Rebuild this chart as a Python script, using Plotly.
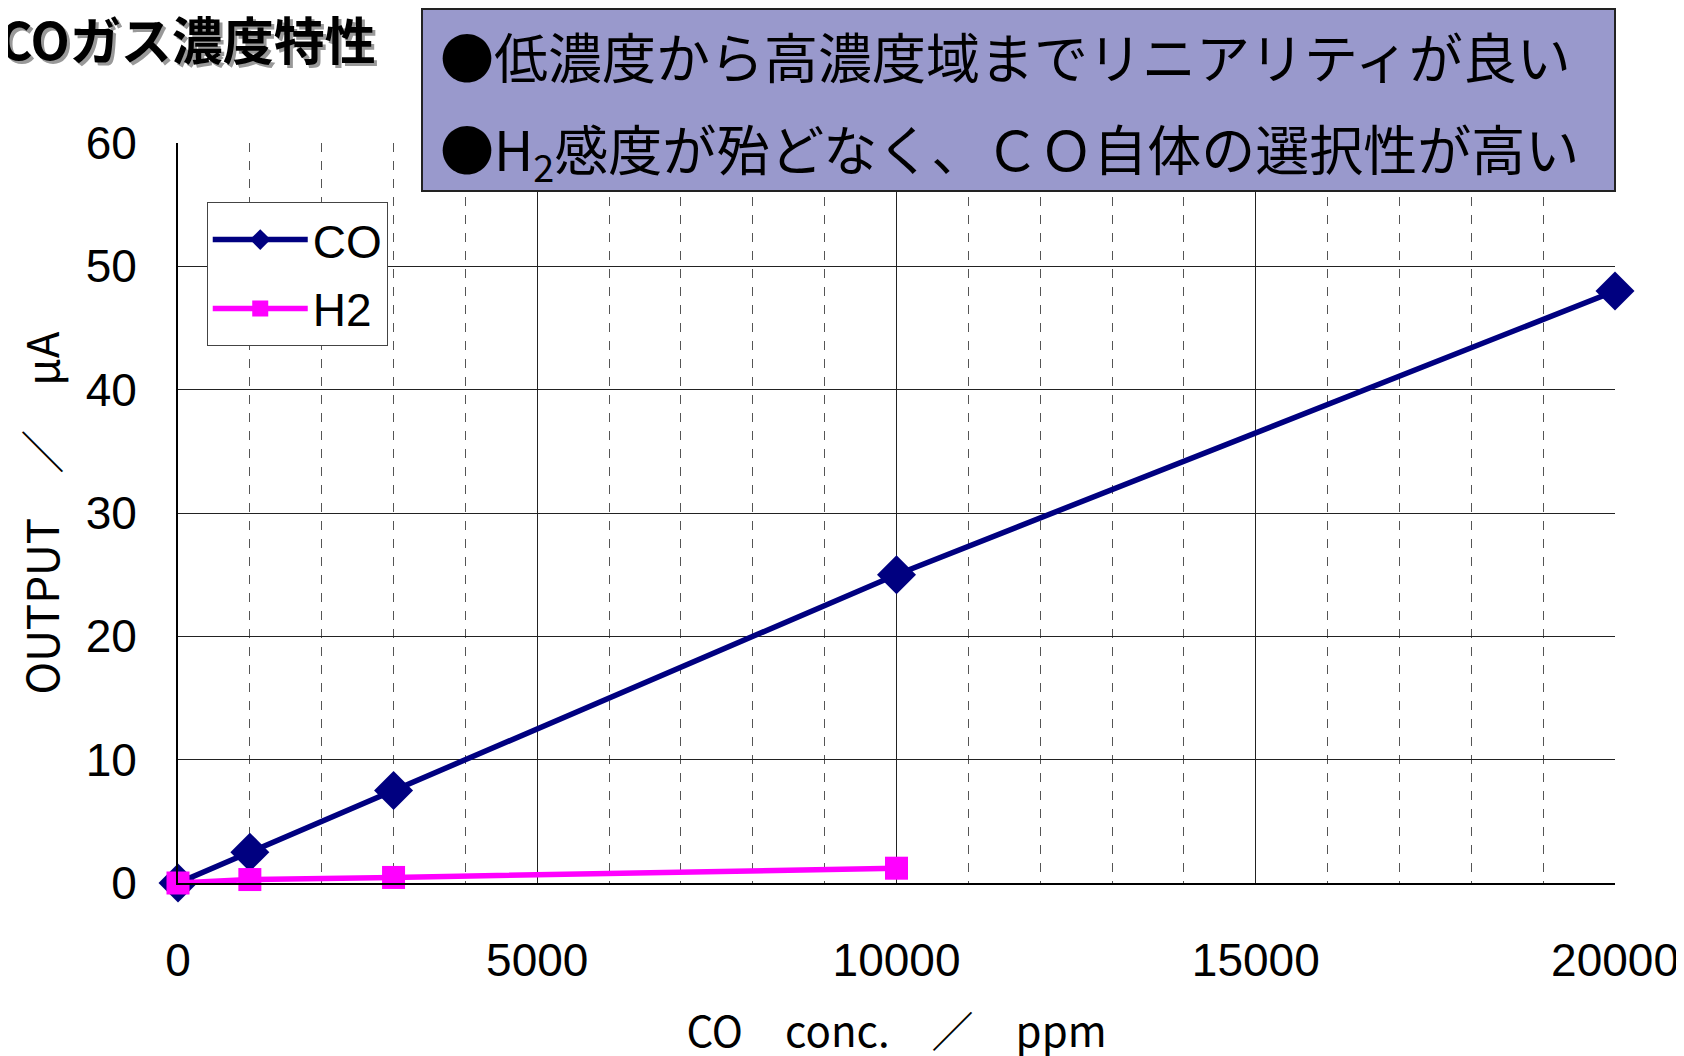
import plotly.graph_objects as go

# ---- data ----
co_conc = [0, 1000, 3000, 10000, 20000]
co_output = [0, 2.5, 7.5, 25, 48]
h2_conc = [0, 1000, 3000, 10000]
h2_output = [0, 0.28, 0.45, 1.2]

x_ticks = [0, 5000, 10000, 15000, 20000]
y_ticks = [0, 10, 20, 30, 40, 50, 60]

title_text = "COガス濃度特性"
note_line1 = "●低濃度から高濃度域までリニアリティが良い"
note_line2 = "●H<sub>2</sub>感度が殆どなく、ＣＯ自体の選択性が高い"
x_title = "CO　conc.　／　ppm"
y_title = "OUTPUT　／　μA"

NUM_FONT = "Liberation Sans, Arial, sans-serif"
JP_FONT = "Noto Sans CJK JP, sans-serif"

fig = go.Figure()
fig.add_trace(go.Scatter(
    x=co_conc, y=co_output, name="CO", mode="lines+markers", legendgroup="co",
    line=dict(color="#000080", width=5.5),
    marker=dict(symbol="diamond", size=30, color="#000080"),
    cliponaxis=False,
))
fig.add_trace(go.Scatter(
    x=h2_conc, y=h2_output, name="H2", mode="lines+markers", legendgroup="h2",
    line=dict(color="#FF00FF", width=5.5),
    marker=dict(symbol="square", size=23, color="#FF00FF"),
    cliponaxis=False,
))

fig.update_xaxes(
    range=[0, 20000], tickvals=x_ticks, ticktext=[str(v) for v in x_ticks],
    showgrid=True, gridcolor="#222222", gridwidth=1,
    minor=dict(dtick=1000, showgrid=True, gridcolor="#555555", griddash="dash", gridwidth=1),
    showline=True, linecolor="black", linewidth=2, zeroline=False,
    tickfont=dict(family=NUM_FONT, size=46, color="black"),
    ticklabelstandoff=36, ticks="",
    title=dict(text=x_title, font=dict(family=JP_FONT, size=42, color="black"), standoff=32),
)
fig.update_yaxes(
    range=[0, 60], tickvals=y_ticks, ticktext=[str(v) for v in y_ticks],
    showgrid=True, gridcolor="#222222", gridwidth=1,
    showline=True, linecolor="black", linewidth=2, zeroline=False,
    tickfont=dict(family=NUM_FONT, size=46, color="black"),
    ticklabelstandoff=30, ticks="",
    title=dict(text=y_title, font=dict(family=JP_FONT, size=44, color="black"), standoff=30),
)

# info box (paper coords)
fig.add_shape(type="rect", xref="paper", yref="paper",
              x0=0.1698, x1=1.0, y0=0.935, y1=1.181,
              fillcolor="#9999CC", line=dict(color="#222222", width=2), layer="above")
fig.add_annotation(xref="paper", yref="paper", x=0.181, y=1.118, xanchor="left", yanchor="middle",
                   text=note_line1, showarrow=False,
                   font=dict(family=JP_FONT, size=54, color="black"))
fig.add_annotation(xref="paper", yref="paper", x=0.181, y=0.99, xanchor="left", yanchor="middle",
                   text=note_line2, showarrow=False,
                   font=dict(family=JP_FONT, size=54, color="black"))

# title with shadow
for dx, dy, col in [(3, -3, "#999999"), (0, 0, "black")]:
    fig.add_annotation(xref="paper", yref="paper", x=(378 - 178) / 1437, y=(883 - 38) / 740,
                       xanchor="right", yanchor="middle", xshift=dx, yshift=dy,
                       text="<b>" + title_text + "</b>", showarrow=False,
                       font=dict(family=JP_FONT, size=51, color=col))

fig.update_layout(
    width=1684, height=1056,
    margin=dict(l=170, r=77, t=135, b=181),
    paper_bgcolor="white", plot_bgcolor="white",
    showlegend=True,
    legend=dict(x=0.02, y=0.92, xanchor="left", yanchor="top",
                bgcolor="white", bordercolor="#444444", borderwidth=1,
                font=dict(family=NUM_FONT, size=46, color="black"),
                itemwidth=95, tracegroupgap=6),
)

fig.write_html("out.html")
